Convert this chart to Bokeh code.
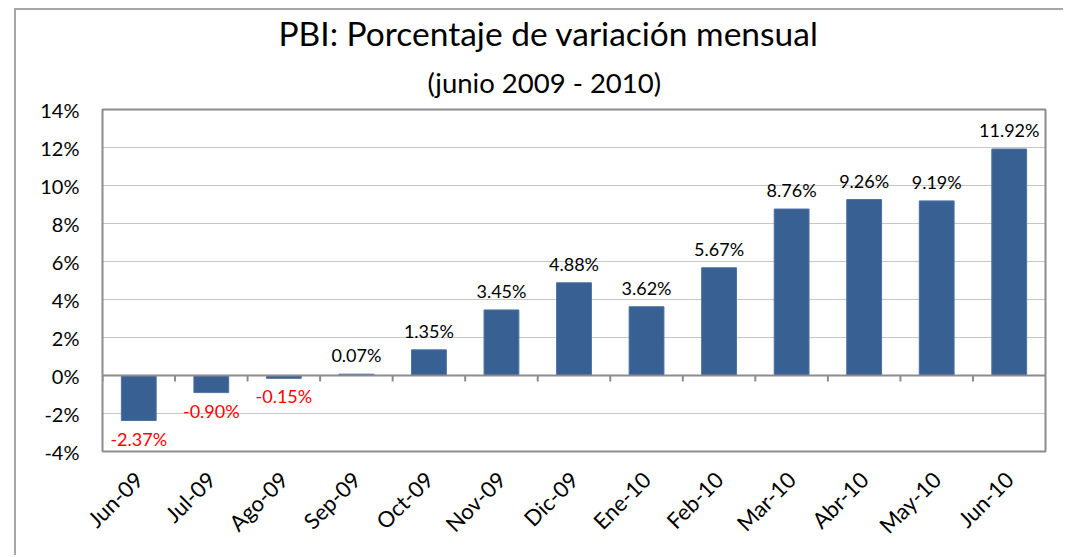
from bokeh.plotting import figure
from bokeh.models import (Title, FixedTicker, PrintfTickFormatter, Span,
                          ColumnDataSource, FactorRange, Range1d)
from bokeh.core.properties import value
from bokeh.transform import dodge
from bokeh.embed import file_html
from bokeh.resources import INLINE
from math import pi

months = ["Jun-09", "Jul-09", "Ago-09", "Sep-09", "Oct-09", "Nov-09", "Dic-09",
          "Ene-10", "Feb-10", "Mar-10", "Abr-10", "May-10", "Jun-10"]
variation = [-2.37, -0.90, -0.15, 0.07, 1.35, 3.45, 4.88, 3.62, 5.67, 8.76, 9.26, 9.19, 11.92]
y_ticks = [-4, -2, 0, 2, 4, 6, 8, 10, 12, 14]

FONT = "Lato"
BAR = "#386092"

labels = ["%.2f%%" % v for v in variation]
pos = ColumnDataSource(dict(m=[m for m, v in zip(months, variation) if v >= 0],
                            v=[v for v in variation if v >= 0],
                            t=[l for l, v in zip(labels, variation) if v >= 0]))
neg = ColumnDataSource(dict(m=[m for m, v in zip(months, variation) if v < 0],
                            v=[v for v in variation if v < 0],
                            t=[l for l, v in zip(labels, variation) if v < 0]))
src = ColumnDataSource(dict(m=months, v=variation))

p = figure(x_range=FactorRange(*months, range_padding=0), y_range=Range1d(-4, 14),
           width=1049, height=547, output_backend="svg", toolbar_location=None,
           min_border_left=86, min_border_right=20, min_border_bottom=106, min_border_top=10)
p.margin = (8, 0, 0, 14)
p.styles = {"border-left": "2px solid #a6a6a6", "border-top": "2px solid #a6a6a6"}

p.title.text = "PBI: Porcentaje de variación mensual"
p.title.text_font = FONT
p.title.text_font_size = "33.5px"
p.title.text_font_style = "normal"
p.title.text_color = "black"
p.title.align = "left"
p.title.offset = 176
p.title.standoff = 0
p.add_layout(Title(text="(junio 2009 - 2010)", text_font=FONT, text_font_size="27.5px",
                   text_font_style="normal", text_color="black", align="left",
                   offset=325, standoff=22), "above")

p.vbar(x="m", top="v", bottom=0, width=0.48, source=src, fill_color=BAR,
       line_color="#4a72a4", line_width=1)

p.text(x="m", y="v", text="t", source=pos, text_font=value(FONT), text_font_size="18px",
       text_align="center", text_baseline="bottom", y_offset=-8, text_color="black")
p.text(x="m", y="v", text="t", source=neg, text_font=value(FONT), text_font_size="18px",
       text_align="center", text_baseline="top", y_offset=7, text_color="#ff0000")

p.add_layout(Span(location=0, dimension="width", line_color="#8c8c8c", line_width=2))
p.segment(x0=dodge("m", -0.5, range=p.x_range), y0=0,
          x1=dodge("m", -0.5, range=p.x_range), y1=-0.32,
          source=src, line_color="#8c8c8c", line_width=2)

p.outline_line_color = "#8c8c8c"
p.outline_line_width = 2
p.xgrid.grid_line_color = None
p.ygrid.grid_line_color = "#8c8c8c"
p.ygrid.grid_line_dash = "1 1"
p.ygrid.grid_line_width = 1

p.yaxis.ticker = FixedTicker(ticks=y_ticks)
p.yaxis.formatter = PrintfTickFormatter(format="%d%%")
p.yaxis.axis_line_color = None
p.yaxis.major_tick_line_color = None
p.yaxis.minor_tick_line_color = None
p.yaxis.major_tick_out = 0
p.yaxis.minor_tick_out = 0
p.yaxis.major_label_text_font = FONT
p.yaxis.major_label_text_font_size = "20px"
p.yaxis.major_label_text_color = "black"
p.yaxis.major_label_standoff = 23

p.xaxis.axis_line_color = None
p.xaxis.major_tick_line_color = None
p.xaxis.major_tick_out = 0
p.xaxis.major_label_orientation = pi / 4
p.xaxis.major_label_text_font = FONT
p.xaxis.major_label_text_font_size = "22px"
p.xaxis.major_label_text_color = "black"
p.xaxis.major_label_standoff = 24

p.background_fill_color = "white"
p.border_fill_color = "white"

open("out.html", "w").write(file_html(p, INLINE))
